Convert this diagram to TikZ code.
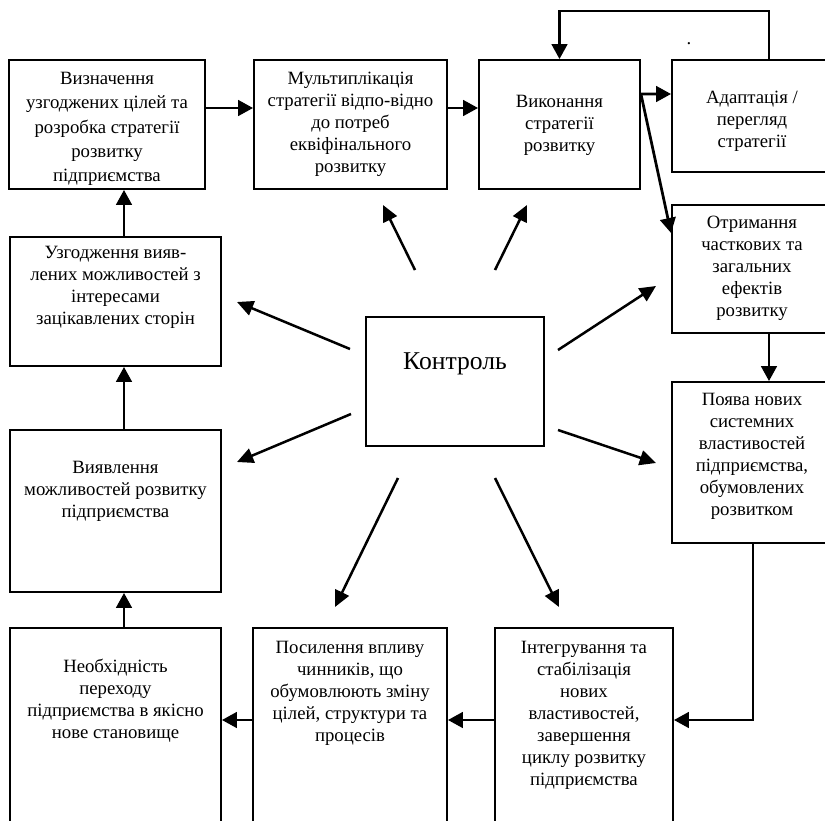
\documentclass[tikz,border=0pt]{standalone}
\usepackage{fontspec}
\setmainfont{Liberation Serif}
\usetikzlibrary{arrows.meta, positioning}

\begin{document}
\begin{tikzpicture}[x=0.8pt, y=-0.8pt,
  sbox/.style={draw, line width=1.5pt, inner sep=0pt},
  stext/.style={anchor=north, align=center, inner sep=0pt, font=\fontsize{15}{17.6}\selectfont},
  flow/.style={line width=2.2pt, -{Triangle[length=12pt, width=12.5pt]}},
  ray/.style={line width=2pt, -{Triangle[length=13pt, width=12pt]}}
]
  \useasboundingbox (0,0) rectangle (825,821);
  \clip (0,0) rectangle (825,821);

  \node[sbox, minimum width=156.8pt, minimum height=103.2pt] (goals) at (107,124.5) {};
  \node[sbox, minimum width=154.4pt, minimum height=103.2pt] (mult) at (350.5,124.5) {};
  \node[sbox, minimum width=128.8pt, minimum height=103.2pt] (exec) at (559.5,124.5) {};
  \node[sbox, minimum width=128pt, minimum height=89.6pt] (adapt) at (752,116) {};
  \node[sbox, minimum width=128pt, minimum height=102.4pt] (effects) at (752,269) {};
  \node[sbox, minimum width=128pt, minimum height=128.8pt] (props) at (752,462.5) {};
  \node[sbox, minimum width=142.4pt, minimum height=177.6pt] (integ) at (584,739) {};
  \node[sbox, minimum width=155.2pt, minimum height=177.6pt] (factors) at (350,739) {};
  \node[sbox, minimum width=168.8pt, minimum height=177.6pt] (need) at (115.5,739) {};
  \node[sbox, minimum width=168.8pt, minimum height=129.6pt] (reveal) at (115.5,511) {};
  \node[sbox, minimum width=168.8pt, minimum height=103.2pt] (agree) at (115.5,301.5) {};
  \node[sbox, line width=1.2pt, minimum width=142.4pt, minimum height=103.2pt] (ctrl) at (455,381.5) {};

  \node[stext, font=\fontsize{15}{19.4}\selectfont] (goalsT) at ([yshift=-10.4pt]goals.north) {Визначення\\узгоджених цілей та\\розробка стратегії\\розвитку\\підприємства};
  \node[stext] (multT) at ([yshift=-10.4pt]mult.north) {Мультиплікація\\стратегії відпо-відно\\до потреб\\еквіфінального\\розвитку};
  \node[stext] (execT) at ([yshift=-28.8pt]exec.north) {Виконання\\стратегії\\розвитку};
  \node[stext] (adaptT) at ([yshift=-25.6pt]adapt.north) {Адаптація /\\перегляд\\стратегії};
  \node[stext] (effectsT) at ([yshift=-9.6pt]effects.north) {Отримання\\часткових та\\загальних\\ефектів\\розвитку};
  \node[stext] (propsT) at ([yshift=-9.6pt]props.north) {Поява нових\\системних\\властивостей\\підприємства,\\обумовлених\\розвитком};
  \node[stext] (integT) at ([yshift=-11.2pt]integ.north) {Інтегрування та\\стабілізація\\нових\\властивостей,\\завершення\\циклу розвитку\\підприємства};
  \node[stext] (factorsT) at ([yshift=-11.2pt]factors.north) {Посилення впливу\\чинників, що\\обумовлюють зміну\\цілей, структури та\\процесів};
  \node[stext] (needT) at ([yshift=-25.6pt]need.north) {Необхідність\\переходу\\підприємства в якісно\\нове становище};
  \node[stext] (revealT) at ([yshift=-25.6pt]reveal.north) {Виявлення\\можливостей розвитку\\підприємства};
  \node[stext] (agreeT) at ([yshift=-8pt]agree.north) {Узгодження вияв-\\лених можливостей з\\інтересами\\зацікавлених сторін};
  \node[stext, font=\fontsize{20.5}{24}\selectfont] (ctrlT) at ([yshift=-29pt]ctrl.north) {Контроль};
  \node[stext, anchor=base] (dot) at (689,44) {.};

  \draw[flow] ([yshift=13.2pt]goals.east) -- ([yshift=13.2pt]mult.west);
  \draw[flow] ([yshift=13.2pt]mult.east) -- ([yshift=13.2pt]exec.west);
  \draw[flow] ([yshift=24.4pt]exec.east) -- ([yshift=17.6pt]adapt.west);
  \draw[flow] ([yshift=24.4pt]exec.east) -- ([yshift=28.8pt]effects.west);
  \draw[flow] ([xshift=13.6pt]adapt.north) -- ++(0pt,38.4pt) -| (exec.north);
  \draw[flow] ([xshift=13.6pt]effects.south) -- ([xshift=13.6pt]props.north);
  \draw[flow] ([xshift=0.8pt]props.south) |- ([yshift=15.2pt]integ.east);
  \draw[flow] ([yshift=15.2pt]integ.west) -- ([yshift=15.2pt]factors.east);
  \draw[flow] ([yshift=15.2pt]factors.west) -- ([yshift=15.2pt]need.east);
  \draw[flow] ([xshift=6.8pt]need.north) -- ([xshift=6.8pt]reveal.south);
  \draw[flow] ([xshift=6.8pt]reveal.north) -- ([xshift=6.8pt]agree.south);
  \draw[flow] ([xshift=6.8pt]agree.north) -- ([xshift=6.8pt]agree.north |- goals.south);

  \foreach \n/\sx/\sy/\ex/\ey in {mult/415/270/383/205, exec/495/270/527/205,
      agree/350/349/237/302, effects/558/350/656/286, reveal/351/414/237/462,
      props/558/430/656/463, factors/398/478/335/607, integ/495/478/559/607}{
    \coordinate (ctrl-\n) at (\sx,\sy);
    \coordinate (to-\n) at (\ex,\ey);
    \draw[ray] (ctrl-\n) -- (to-\n);
  }
\end{tikzpicture}
\end{document}
